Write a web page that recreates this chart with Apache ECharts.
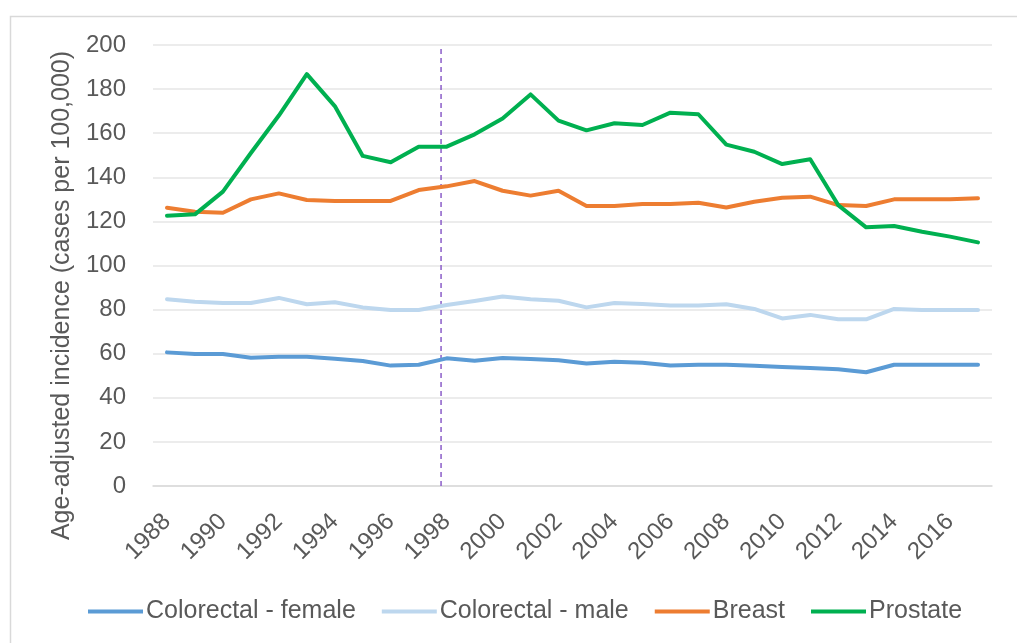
<!DOCTYPE html>
<html>
<head>
<meta charset="utf-8">
<script src="https://cdn.jsdelivr.net/npm/echarts@6/dist/echarts.min.js"></script>
<style>html,body{margin:0;padding:0;background:#fff}#c{width:1017px;height:643px}</style>
</head>
<body>
<div id="c"></div>
<script>
const years = ['1988','1989','1990','1991','1992','1993','1994','1995','1996','1997','1998','1999','2000','2001','2002','2003','2004','2005','2006','2007','2008','2009','2010','2011','2012','2013','2014','2015','2016','2017'];
const colorectalFemale = [60.6,59.9,59.9,58.2,58.6,58.6,57.7,56.7,54.6,55.0,57.9,56.8,58.0,57.6,57.0,55.6,56.4,55.9,54.6,55.0,55.0,54.5,54.0,53.5,52.9,51.6,55.0,55.0,55.0,55.0];
const colorectalMale = [84.7,83.6,83.0,83.0,85.3,82.4,83.3,81.0,79.8,79.8,82.1,83.9,85.9,84.7,84.0,81.0,83.0,82.5,81.9,81.9,82.4,80.3,76.0,77.6,75.6,75.6,80.3,79.8,79.8,79.8];
const breast = [126.2,124.4,123.9,130.0,132.7,129.7,129.3,129.3,129.3,134.2,135.9,138.3,133.9,131.7,133.9,127.0,127.0,127.9,127.9,128.5,126.3,128.9,130.7,131.2,127.4,127.0,130.0,130.0,130.0,130.5];
const prostate = [122.6,123.2,133.5,151.0,168.0,186.8,172.3,149.7,146.8,153.9,153.9,159.5,166.7,177.6,165.7,161.3,164.5,163.7,169.3,168.6,154.8,151.6,146.0,148.2,127.4,117.3,117.9,115.3,113.1,110.5];
const markerYear = 1997.8;
const yTitle = 'Age-adjusted incidence (cases per 100,000)';
const names = ['Colorectal - female','Colorectal - male','Breast','Prostate'];
const colors = ['#5B9BD5','#BDD7EE','#ED7D31','#00B050'];

const font = 'Liberation Sans';
const txt = '#595959';
const chart = echarts.init(document.getElementById('c'));
const mk = (name, data, color) => ({
  name, type: 'line', data, symbol: 'none', smooth: false,
  lineStyle: { color, width: 4, cap: 'round', join: 'round' }, itemStyle: { color },
  xAxisIndex: 0, yAxisIndex: 0, z: 3
});
chart.setOption({
  animation: false,
  backgroundColor: '#fff',
  textStyle: { fontFamily: font },
  graphic: [{ type: 'rect', left: 8, top: 14, shape: { width: 1100, height: 700 }, style: { fill: 'none', stroke: '#D9D9D9', lineWidth: 1.5 }, silent: true, z: -10 }],
  grid: { left: 153, right: 25, top: 45, bottom: 157, containLabel: false },
  legend: {
    data: names.map(n => ({ name: n, icon: 'rect' })), top: 594, left: 83, itemWidth: 55, itemHeight: 4, itemGap: 26,
    textStyle: { fontFamily: font, fontSize: 25, color: txt, padding: [0, 0, 0, -2] }
  },
  xAxis: [{
    type: 'category', data: years, boundaryGap: true,
    axisLine: { show: true, lineStyle: { color: '#D9D9D9', width: 1.5 } },
    axisTick: { show: false },
    axisLabel: { interval: 1, rotate: 45, margin: 32, fontFamily: font, fontSize: 24, color: txt },
    splitLine: { show: false }
  }, {
    type: 'value', min: 1987.5, max: 2017.5, show: false
  }],
  yAxis: {
    type: 'value', min: 0, max: 200, interval: 20,
    name: yTitle, nameLocation: 'middle', nameGap: 78, nameRotate: 90,
    nameTextStyle: { fontFamily: font, fontSize: 25, color: txt, padding: [0, 60, 0, 0] },
    axisLine: { show: false }, axisTick: { show: false },
    axisLabel: { margin: 27, fontFamily: font, fontSize: 24, color: txt },
    splitLine: { lineStyle: { color: '#E6E6E6', width: 1.5 } }
  },
  series: [
    mk(names[0], colorectalFemale, colors[0]),
    mk(names[1], colorectalMale, colors[1]),
    mk(names[2], breast, colors[2]),
    mk(names[3], prostate, colors[3]),
    {
      name: 'marker', type: 'line', xAxisIndex: 1, yAxisIndex: 0, symbol: 'none',
      data: [[markerYear, 0], [markerYear, 200]],
      lineStyle: { color: '#8A5CC8', width: 1.5, type: [5, 4] }, z: 2, silent: true
    }
  ]
});
</script>
</body>
</html>
